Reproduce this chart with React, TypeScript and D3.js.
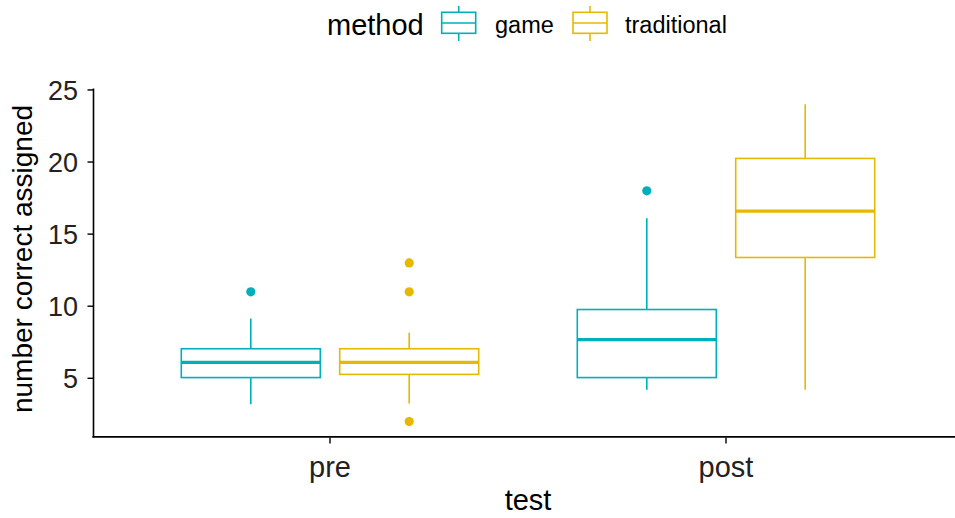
import React from "react";
import * as d3 from "d3";

const W = 955;
const H = 518;

const tests = ["pre", "post"];
const methods = ["game", "traditional"];
const colors = ["#00AFBB", "#E7B800"];

// one entry per box
const boxTest = ["pre", "pre", "post", "post"];
const boxMethod = ["game", "traditional", "game", "traditional"];
const whiskerLow = [3.2, 3.25, 4.2, 4.2];
const q1 = [5.05, 5.27, 5.05, 13.38];
const median = [6.1, 6.1, 7.68, 16.6];
const q3 = [7.05, 7.05, 9.77, 20.25];
const whiskerHigh = [9.15, 8.15, 16.1, 24.0];

const outlierTest = ["pre", "pre", "pre", "pre", "post"];
const outlierMethod = ["game", "traditional", "traditional", "traditional", "game"];
const outlierValue = [11, 13, 11, 2, 18];

const yTicks = [5, 10, 15, 20, 25];

const FONT = "'Liberation Sans', Arial, sans-serif";

export default function App() {
  const y = d3.scaleLinear().domain([0.9, 25.1]).range([437.4, 88.5]);
  const x = d3.scalePoint<string>().domain(tests).range([330, 726]);
  const unit = (x("post") as number) - (x("pre") as number);
  const color = d3.scaleOrdinal<string, string>().domain(methods).range(colors);
  const dodge = d3.scalePoint<string>().domain(methods).range([-0.2 * unit, 0.2 * unit]);
  const halfW = 0.1755 * unit;
  const panelLeft = (x("pre") as number) - 0.6 * unit;
  const panelRight = (x("post") as number) + 0.6 * unit;
  const panelBottom = y(0.9);
  const panelTop = y(25.1);

  return (
    <svg
      width={W}
      height={H}
      style={{ position: "absolute", left: 0, top: 0, background: "#fff" }}
      fontFamily={FONT}
    >
      {/* legend */}
      <g>
        <text x={327} y={35} fontSize={29} fill="#000">method</text>
        {methods.map((m, i) => {
          const kx = i === 0 ? 441.7 : 573;
          const lx = i === 0 ? 495 : 625;
          const c = color(m);
          return (
            <g key={m}>
              <line x1={kx + 17} x2={kx + 17} y1={6} y2={41} stroke={c} strokeWidth={1.6} />
              <rect x={kx} y={12.3} width={34} height={21} fill="#fff" stroke={c} strokeWidth={1.6} />
              <line x1={kx} x2={kx + 34} y1={23} y2={23} stroke={c} strokeWidth={1.6} />
              <text x={lx} y={33} fontSize={23.5} fill="#000">{m}</text>
            </g>
          );
        })}
      </g>

      {/* boxes */}
      {boxTest.map((t, i) => {
        const m = boxMethod[i];
        const cx = (x(t) as number) + (dodge(m) as number);
        const c = color(m);
        return (
          <g key={i}>
            <line x1={cx} x2={cx} y1={y(whiskerHigh[i])} y2={y(q3[i])} stroke={c} strokeWidth={1.6} />
            <line x1={cx} x2={cx} y1={y(q1[i])} y2={y(whiskerLow[i])} stroke={c} strokeWidth={1.6} />
            <rect
              x={cx - halfW}
              y={y(q3[i])}
              width={2 * halfW}
              height={y(q1[i]) - y(q3[i])}
              fill="#fff"
              stroke={c}
              strokeWidth={1.6}
            />
            <line x1={cx - halfW} x2={cx + halfW} y1={y(median[i])} y2={y(median[i])} stroke={c} strokeWidth={3.2} />
          </g>
        );
      })}

      {/* outliers */}
      {outlierValue.map((v, i) => {
        const cx = (x(outlierTest[i]) as number) + (dodge(outlierMethod[i]) as number);
        return <circle key={i} cx={cx} cy={y(v)} r={4.6} fill={color(outlierMethod[i])} />;
      })}

      {/* y axis */}
      <line x1={93.5} x2={93.5} y1={panelTop} y2={panelBottom} stroke="#000" strokeWidth={1.6} />
      {yTicks.map((t) => (
        <g key={t}>
          <line x1={87.5} x2={93.5} y1={y(t)} y2={y(t)} stroke="#000" strokeWidth={1.4} />
          <text x={78} y={y(t)} dy="0.36em" textAnchor="end" fontSize={27} fill="#222">{t}</text>
        </g>
      ))}

      {/* x axis */}
      <line x1={panelLeft} x2={panelRight} y1={panelBottom - 0.5} y2={panelBottom - 0.5} stroke="#000" strokeWidth={1.6} />
      {tests.map((t) => (
        <g key={t}>
          <line x1={x(t)} x2={x(t)} y1={panelBottom} y2={panelBottom + 6} stroke="#000" strokeWidth={1.4} />
          <text x={x(t)} y={477} textAnchor="middle" fontSize={29} fill="#222">{t}</text>
        </g>
      ))}

      {/* axis titles */}
      <text x={(panelLeft + panelRight) / 2} y={510} textAnchor="middle" fontSize={29} fill="#000">test</text>
      <text
        transform={`translate(32, 259) rotate(-90)`}
        textAnchor="middle"
        fontSize={28}
        fill="#000"
      >
        number correct assigned
      </text>
    </svg>
  );
}
